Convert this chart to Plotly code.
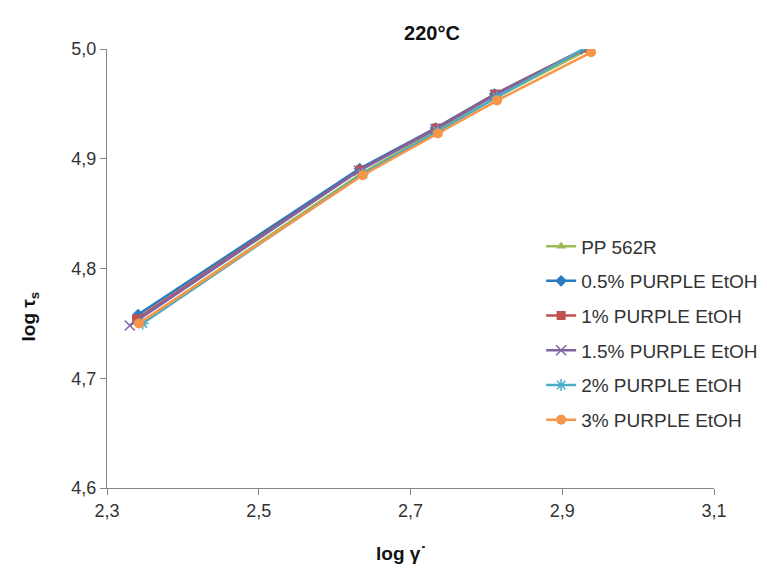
import plotly.graph_objects as go

series_names = ["PP 562R", "0.5% PURPLE EtOH", "1% PURPLE EtOH",
                "1.5% PURPLE EtOH", "2% PURPLE EtOH", "3% PURPLE EtOH"]

x_pp = [2.345, 2.636, 2.735, 2.813, 2.933]
y_pp = [4.751, 4.887, 4.926, 4.956, 4.999]

x_05 = [2.341, 2.633, 2.733, 2.811, 2.932]
y_05 = [4.758, 4.891, 4.928, 4.959, 5.001]

x_1 = [2.339, 2.634, 2.734, 2.812, 2.932]
y_1 = [4.754, 4.890, 4.928, 4.959, 5.001]

x_15 = [2.330, 2.632, 2.733, 2.811, 2.931]
y_15 = [4.748, 4.889, 4.927, 4.958, 5.000]

x_2 = [2.347, 2.637, 2.736, 2.814, 2.933]
y_2 = [4.750, 4.886, 4.925, 4.956, 5.002]

x_3 = [2.342, 2.637, 2.736, 2.814, 2.938]
y_3 = [4.750, 4.885, 4.923, 4.953, 4.997]

xs = [x_pp, x_05, x_1, x_15, x_2, x_3]
ys = [y_pp, y_05, y_1, y_15, y_2, y_3]
colors = ["#9BBB59", "#2A7BC0", "#C0504D", "#8064A2", "#4BACC6", "#F79646"]
symbols = ["triangle-up", "diamond", "square", "x-thin-open", "asterisk-open", "circle"]
msizes = [9, 9, 9, 10, 10, 10]

fig = go.Figure()
for i in range(6):
    open_sym = symbols[i].endswith("open")
    fig.add_trace(go.Scatter(
        x=xs[i], y=ys[i], name=series_names[i], mode="lines+markers",
        legendgroup=f"g{i}",
        line=dict(color=colors[i], width=2.5),
        marker=dict(symbol=symbols[i], size=msizes[i], color=colors[i],
                    line=dict(color=colors[i], width=1.5 if open_sym else 0)),
    ))

L, R, T, B = 99, 43, 40.5, 89
W, H = 767, 569
pw, ph = W - L - R, H - T - B

axis_font = dict(family="Liberation Sans, Arial, sans-serif", size=18, color="#333333")
fig.update_layout(
    width=W, height=H,
    margin=dict(l=L, r=R, t=T, b=B),
    paper_bgcolor="white", plot_bgcolor="white",
    separators=",.",
    font=dict(family="Liberation Sans, Arial, sans-serif", color="#333333"),
    title=dict(text="<b>220°C</b>", x=424 / W, xanchor="center", y=1 - 25 / H, yanchor="middle",
               font=dict(size=20, color="#111111")),
    xaxis=dict(range=[2.3, 3.1], tickvals=[2.3, 2.5, 2.7, 2.9, 3.1], tickformat=".1f",
               showgrid=False, zeroline=False, showline=True, linecolor="#868686", linewidth=1.2,
               ticks="outside", ticklen=6, tickcolor="#868686", tickfont=axis_font),
    yaxis=dict(range=[4.6, 5.0], tickvals=[4.6, 4.7, 4.8, 4.9, 5.0], tickformat=".1f",
               showgrid=False, zeroline=False, showline=True, linecolor="#868686", linewidth=1.2,
               ticks="outside", ticklen=6, tickcolor="#868686", tickfont=axis_font),
    legend=dict(x=(546 - L) / pw, y=1 - (219 - T) / ph, xanchor="left", yanchor="top",
                traceorder="grouped", tracegroupgap=7, bgcolor="rgba(0,0,0,0)",
                font=dict(size=19, color="#333333")),
    showlegend=True,
    annotations=[
        dict(text="<b>log γ˙</b>", xref="paper", yref="paper",
             x=(402 - L) / pw, y=-(546 - (T + ph)) / ph, xanchor="center", yanchor="middle",
             showarrow=False, font=dict(size=19, color="#111111")),
        dict(text="<b>log τ<sub>s</sub></b>", xref="paper", yref="paper", textangle=-90,
             x=-(L - 20) / pw, y=1 - (308 - T) / ph, xanchor="center", yanchor="middle",
             showarrow=False, font=dict(size=19, color="#111111")),
    ],
)

fig.write_html("out.html")
